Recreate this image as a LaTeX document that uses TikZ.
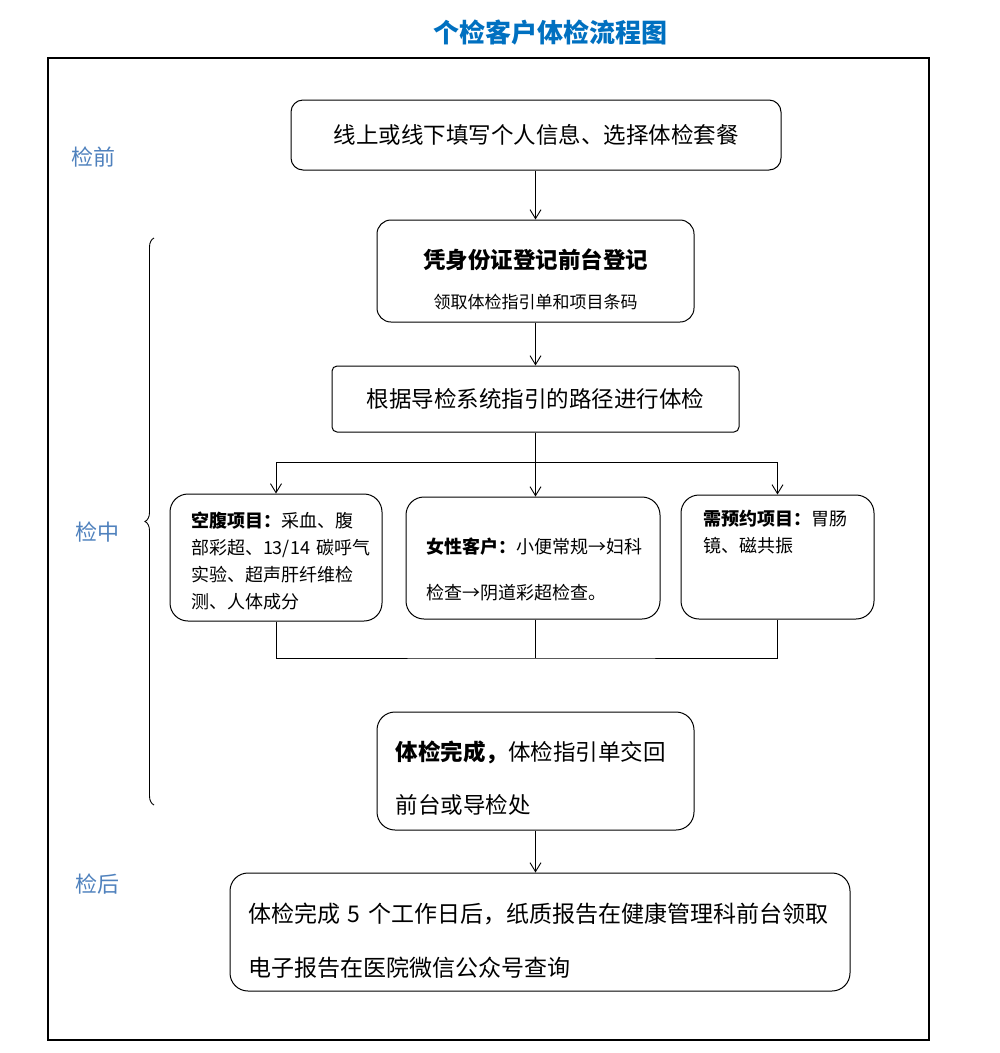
\documentclass[tikz,border=0pt]{standalone}
\usepackage{fontspec}
\setmainfont{Noto Sans CJK SC}
\usetikzlibrary{arrows.meta,decorations.pathreplacing}
\definecolor{titleblue}{RGB}{0,112,192}
\definecolor{stageblue}{RGB}{79,129,189}
\newcommand{\lift}[1]{\rule{0pt}{#1}}
\begin{document}
\begin{tikzpicture}[x=1pt,y=-1pt,
    box/.style={draw, line width=1pt, rounded corners=14pt, inner sep=0pt},
    stage/.style={text=stageblue, font=\fontsize{22}{26}\selectfont},
    arr/.style={-{Straight Barb[length=9pt,width=11pt]}, line width=0.9pt},
    link/.style={line width=0.9pt}]
        \useasboundingbox (0,0) rectangle (1000,1053);
        \node[text=titleblue, font=\fontsize{26}{30}\selectfont\bfseries] (title) at (550,33) {个检客户体检流程图};
        \draw[line width=1.2pt] (48,58) rectangle (929,1040);

        % stages
        \node[stage] (before) at (93,157) {检前};
        \node[stage] (during) at (97,532) {检中};
        \node[stage] (after) at (97,884) {检后};
        \draw[line width=0.9pt, decorate, decoration={brace, amplitude=9pt}] (154,805) -- (154,238);

        % steps
        \node[box, rounded corners=12pt, minimum width=490, minimum height=70, font=\fontsize{22.5}{26}\selectfont] (online) at (536,135) {线上或线下填写个人信息、选择体检套餐};
        \node[box, minimum width=317, minimum height=102, align=center, font=\fontsize{22.5}{40}\selectfont] (register) at (535.5,271)
            {\lift{36pt}\bfseries 凭身份证登记前台登记\\ \fontsize{17}{40}\selectfont 领取体检指引单和项目条码};
        \node[box, rounded corners=5pt, minimum width=407, minimum height=66, font=\fontsize{22.5}{26}\selectfont] (route) at (535.5,399) {根据导检系统指引的路径进行体检};

        \node[box, rounded corners=18pt, minimum width=212, minimum height=127, text width=170, align=left, font=\fontsize{18}{27}\selectfont] (fast) at (276,557.5)
            {\lift{22pt}\textbf{空腹项目：}采血、腹\\部彩超、13/14~碳呼气\\实验、超声肝纤维检\\测、人体成分};
        \node[box, rounded corners=18pt, minimum width=254, minimum height=122, text width=214, align=left, font=\fontsize{18}{46}\selectfont] (female) at (533,558)
            {\lift{38pt}\textbf{女性客户：}小便常规→妇科\\检查→阴道彩超检查。};
        \node[box, rounded corners=18pt, minimum width=193, minimum height=124] (reserve) at (777.5,557) {};
        \node[anchor=north west, inner sep=0pt, align=left, font=\fontsize{18}{27}\selectfont] (reservetext) at (703,510)
            {\textbf{需预约项目：}胃肠\\镜、磁共振};

        \node[box, rounded corners=18pt, minimum width=317, minimum height=118, text width=280, align=left, font=\fontsize{22.5}{53}\selectfont] (finish) at (535.5,771)
            {\lift{34pt}\textbf{体检完成，}体检指引单交回\\前台或导检处};
        \node[box, rounded corners=18pt, minimum width=620, minimum height=118, text width=584, align=left, font=\fontsize{23}{54}\selectfont] (report) at (540,932)
            {\lift{38pt}体检完成 5 个工作日后，纸质报告在健康管理科前台领取\\电子报告在医院微信公众号查询};

        % connectors
        \coordinate (split) at (535.5,462);
        \coordinate (merge) at (535.5,658);
        \draw[arr] (online.south -| route.south) -- (register.north -| route.south);
        \draw[arr] (register.south -| route.south) -- (route);
        \draw[link] (route.south) -- (split);
        \draw[arr] (split) -| (fast.north);
        \draw[arr] (split) -- (split |- female.north);
        \draw[arr] (split) -| (reserve.north);
        \draw[link] (fast.south) |- (merge) -| (reserve.south);
        \draw[link] (merge |- female.south) -- (merge);
        \draw[arr] (finish) -- (report.north -| finish.south);
        \end{tikzpicture}
\end{document}
